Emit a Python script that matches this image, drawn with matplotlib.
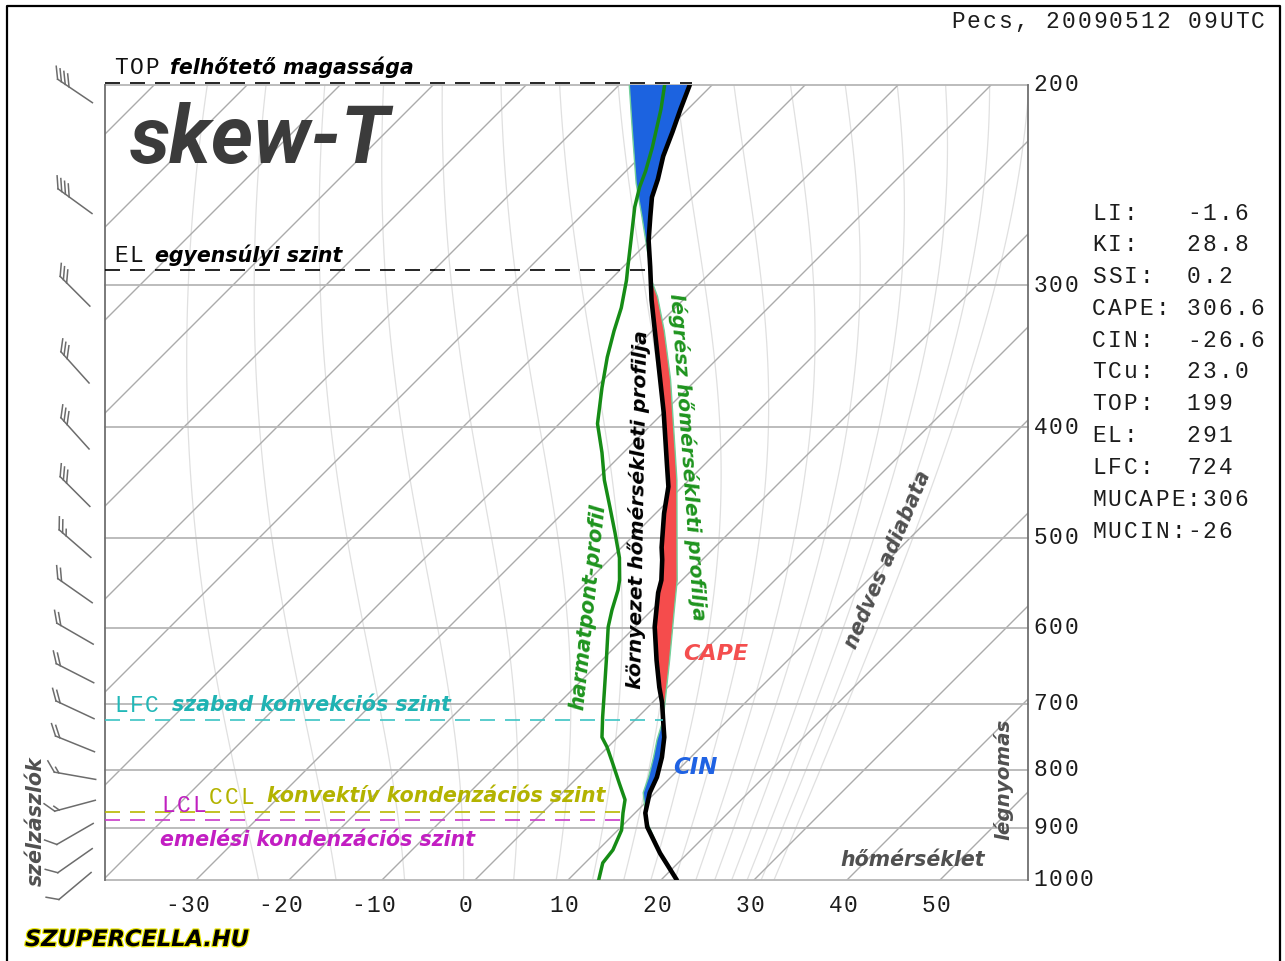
import numpy as np
import matplotlib
matplotlib.use("Agg")
import matplotlib.pyplot as plt
import matplotlib.patheffects as pe

plt.rcParams['font.family'] = ['DejaVu Sans']

W, H = 1285, 961
# plot box in pixels and the skew-T scale
PX_L, PX_R, PX_T, PX_B = 105, 1028, 85, 880
ZERO_PX = 475.0      # x pixel of 0 C on the 1000 hPa line
DEG_PX = 9.3         # pixels per degree
LNP_PX = 494.0       # pixels per unit of ln(p)
SKEW = LNP_PX / DEG_PX

# sounding (hPa, C)
env_p = [1000, 947, 898, 873, 838, 812, 780, 749, 723, 699, 677, 641, 599,
         559, 545, 523, 510, 476, 451, 430, 388, 351, 317, 309, 289, 274,
         261, 251, 242, 231, 220, 210, 200]
env_t = [21.7, 17.0, 12.8, 11.1, 9.4, 8.5, 6.9, 5.0, 3.0, 1.1, -0.9, -4.1, -7.9,
         -11.2, -12.2, -14.3, -15.7, -19.1, -21.5, -24.2, -30.0, -35.9, -41.9, -43.4,
         -47.1, -50.1, -52.5, -54.4, -55.7, -57.6, -59.2, -60.8, -62.4]

dew_p = [1000, 966, 941, 904, 873, 850, 822, 789, 764, 749, 719, 685, 641, 599,
         579, 556, 545, 521, 495, 470, 445, 421, 397, 369, 347, 329, 314, 297,
         289, 274, 256, 246, 238, 227, 210, 200]
dew_t = [13.3, 11.9, 11.6, 10.4, 8.7, 7.5, 5.1, 2.2, -0.1, -1.7, -3.8, -6.2, -9.5,
         -12.9, -14.3, -15.8, -16.7, -19.1, -22.3, -25.6, -29.1, -32.3, -35.9, -39.3,
         -42.0, -44.1, -45.8, -48.2, -49.5, -52.0, -55.2, -56.8, -57.9, -59.7, -62.9, -65.1]

par_p = [1000, 945, 880, 870, 838, 812, 780, 753, 723, 699, 641, 579, 545, 523,
         445, 416, 363, 329, 307, 297, 289, 279, 261, 244, 220, 200]
par_t = [21.7, 16.9, 11.5, 10.9, 8.7, 7.6, 6.0, 4.5, 3.0, 1.4, -2.7, -7.6, -10.5, -12.7,
         -21.3, -25.1, -32.8, -38.7, -43.1, -45.5, -47.1, -49.3, -53.4, -57.6, -63.5, -68.9]

lvl_top, lvl_el, lvl_lfc, lvl_ccl, lvl_lcl = 199, 291, 724, 871, 886

wind_p = [200, 250, 300, 350, 400, 450, 500, 550, 600, 650, 700, 750, 800, 850, 900, 950, 1000]
wind_dir = [304, 306, 315, 318, 318, 315, 311, 305, 300, 297, 295, 292, 280, 255, 240, 235, 230]
wind_spd = [40, 40, 30, 30, 30, 30, 25, 20, 20, 20, 20, 20, 15, 15, 10, 10, 10]

stats = [("LI:", "-1.6"), ("KI:", "28.8"), ("SSI:", "0.2"), ("CAPE:", "306.6"),
         ("CIN:", "-26.6"), ("TCu:", "23.0"), ("TOP:", "199"), ("EL:", "291"),
         ("LFC:", "724"), ("MUCAPE:", "306"), ("MUCIN:", "-26")]

isobars = [200, 300, 400, 500, 600, 700, 800, 900, 1000]
t_ticks = [-30, -20, -10, 0, 10, 20, 30, 40, 50]
isotherms = list(range(-130, 70, 10))
adiabat_te = [251.5 + 10 * k for k in range(16)]   # equivalent potential temperature, K


def skew(t, p):
    t = np.asarray(t, float)
    p = np.asarray(p, float)
    return t + SKEW * np.log(1000.0 / p)


def interp(pn, p, t):
    p = np.asarray(p, float)
    t = np.asarray(t, float)
    o = np.argsort(p)
    return np.interp(np.log(pn), np.log(p[o]), t[o])


def theta_e_sat(tk, p):
    tc = tk - 273.15
    es = 6.112 * np.exp(17.67 * tc / (tc + 243.5))
    r = 622.0 * es / (p - es)
    return (tk * (1000.0 / p) ** (0.2854 * (1 - 0.00028 * r))
            * np.exp((3.376 / tk - 0.00254) * r * (1 + 0.00081 * r)))


def moist_t(te, p):
    lo = np.full_like(p, 150.0)
    hi = np.full_like(p, 318.0)
    for _ in range(45):
        mid = 0.5 * (lo + hi)
        up = theta_e_sat(mid, p) > te
        hi = np.where(up, mid, hi)
        lo = np.where(up, lo, mid)
    return 0.5 * (lo + hi) - 273.15


def ypx(p):
    return PX_B - LNP_PX * np.log(1000.0 / p)


fig = plt.figure(figsize=(W / 100, H / 100), dpi=100)
fig.patch.set_facecolor('white')

ax = fig.add_axes([PX_L / W, 1 - PX_B / H, (PX_R - PX_L) / W, (PX_B - PX_T) / H])
ax.set_yscale('log')
ax.set_ylim(1000, 200)
xmin = (PX_L - ZERO_PX) / DEG_PX
xmax = (PX_R - ZERO_PX) / DEG_PX
ax.set_xlim(xmin, xmax)
ax.axis('off')

# moist adiabats
pa = np.geomspace(1000, 200, 90)
for te in adiabat_te:
    ax.plot(skew(moist_t(te, pa), pa), pa, color='#e0e0e0', lw=0.9, zorder=1)

# isotherms
for t in isotherms:
    ax.plot(skew([t, t], [1000, 200]), [1000, 200], color='#ababab', lw=1.0, zorder=2)

# isobars and side edges
for p in isobars:
    ax.plot([xmin, xmax], [p, p], color='#b6b6b6', lw=1.3, zorder=3, clip_on=False)
for xe in (xmin, xmax):
    ax.plot([xe, xe], [1000, 200], color='#707070', lw=1.3, zorder=4, clip_on=False)

# CAPE / CIN areas
pg = np.geomspace(1000, 200, 700)
xe_g = skew(interp(pg, env_p, env_t), pg)
xp_g = skew(interp(pg, par_p, par_t), pg)
ax.fill_betweenx(pg, xe_g, xp_g, where=xp_g > xe_g, color='#f54c4c', lw=0,
                 interpolate=True, zorder=5)
ax.fill_betweenx(pg, xe_g, xp_g, where=(xp_g < xe_g) & (pg <= 880), color='#1c63e0',
                 lw=0, interpolate=True, zorder=5)

# profiles
ax.plot(skew(par_t, par_p), par_p, color='#72d09a', lw=1.0, zorder=6)
ax.plot(skew(env_t, env_p), env_p, color='black', lw=3.3, zorder=7,
        solid_joinstyle='round', solid_capstyle='round')
ax.plot(skew(dew_t, dew_p), dew_p, color='#168c16', lw=2.5, zorder=7,
        solid_joinstyle='round')


def level(p, t_end, color):
    ax.plot([xmin, skew(t_end, p)], [p, p], color=color, lw=1.2, dashes=(9, 6),
            clip_on=False, zorder=8)


level(lvl_top, interp(lvl_top, env_p, env_t), 'black')
level(lvl_el, interp(lvl_el, env_p, env_t), 'black')
level(lvl_lfc, interp(lvl_lfc, env_p, env_t), '#3cc4c4')
level(lvl_ccl, interp(lvl_ccl, dew_p, dew_t) + 0.6, '#b8b800')
level(lvl_lcl, interp(lvl_lcl, dew_p, dew_t) + 0.6, '#c83ac8')

# overlay in pixel coordinates for texts and wind barbs
ov = fig.add_axes([0, 0, 1, 1], zorder=10)
ov.set_xlim(0, W)
ov.set_ylim(H, 0)
ov.axis('off')

ov.plot([7, 7, 1280, 1280], [961, 6, 6, 961], color='black', lw=1.6)

MONO = 'Liberation Mono'


def mono(x, y, s, color='#1c1c1c', size=16.5, pitch=15.8, ha='left'):
    if ha == 'center':
        x = x - len(s) * pitch / 2
    elif ha == 'right':
        x = x - len(s) * pitch
    for i, ch in enumerate(s):
        if ch != ' ':
            ov.text(x + (i + 0.5) * pitch, y, ch, ha='center', va='center',
                    family=MONO, fontsize=size, color=color)


def label(x, y, s, color, size=14.8, rot=0, ha='left', **kw):
    ov.text(x, y, s, color=color, fontsize=size, fontweight='bold', fontstyle='italic',
            ha=ha, va='center', rotation=rot, rotation_mode='anchor', **kw)


mono(1266, 22, "Pecs, 20090512 09UTC", ha='right')

for i, (k, v) in enumerate(stats):
    y = 213 + i * 31.8
    mono(1091, y, k)
    mono(1091 + max(6, len(k)) * 15.8, y, v)

for p in isobars:
    mono(1033, ypx(p), str(p), pitch=15.2)

for t in t_ticks:
    cx = ZERO_PX + DEG_PX * t - (9 if t <= 0 else 4)
    mono(cx, 905, str(t), ha='center', pitch=15.2)

# level names
mono(113, 68, "TOP", color='#111111', pitch=15.6)
label(170, 67, "felhőtető magassága", 'black')
mono(113, 256, "EL", color='#111111', pitch=15.6)
label(155, 255, "egyensúlyi szint", 'black')
mono(113, 706, "LFC", color='#22b8b8', pitch=15.6)
label(172, 705, "szabad konvekciós szint", '#1fb3b3')
mono(160, 806, "LCL", color='#c020c0', pitch=15.6)
mono(208, 797, "CCL", color='#b3b300', pitch=15.6)
label(267, 796, "konvektív kondenzációs szint", '#b3b300')
label(160, 840, "emelési kondenzációs szint", '#c21ec2')

ov.text(130, 141, "skew-T", family=['Roboto', 'DejaVu Sans'], fontsize=58,
        fontweight='bold', fontstyle='italic', color='#3b3b3b', ha='left', va='center')

label(683, 654, "CAPE", '#f44e4e', size=16)
label(673, 767, "CIN", '#1f62e3', size=16.5)
label(840, 860, "hőmérséklet", '#505050')
label(1003, 779, "légnyomás", '#505050', size=14.3, rot=90, ha='center')
label(36, 821, "szélzászlók", '#505050', rot=90, ha='center')
label(888, 560, "nedves adiabata", '#505050', rot=67, ha='center')
label(638, 510, "környezet hőmérsékleti profilja", 'black', size=14.6, rot=89, ha='center')
label(687, 457, "légrész hőmérsékleti profilja", '#1e941e', size=14.6, rot=-86, ha='center')
label(588, 607, "harmatpont-profil", '#1e941e', size=14.8, rot=84, ha='center')

ov.text(25, 940, "SZUPERCELLA.HU", fontsize=16.2, fontweight='heavy', fontstyle='italic',
        color='black', ha='left', va='center',
        path_effects=[pe.withStroke(linewidth=1.8, foreground='#ece800')])


# wind barbs, drawn by hand in pixel space
def barb(cx, cy, d, spd, L=42, gap=4.6, flen=13):
    r = np.radians(d)
    sx, sy = np.sin(r), -np.cos(r)
    tip = (cx + sx * L / 2, cy + sy * L / 2)
    base = (cx - sx * L / 2, cy - sy * L / 2)
    ov.plot([base[0], tip[0]], [base[1], tip[1]], color='#6c6c6c', lw=1.1)
    a = np.radians(50)
    ux, uy = sx, -sy
    fx = ux * np.cos(a) + uy * np.sin(a)
    fy = -(-ux * np.sin(a) + uy * np.cos(a))
    n = int(spd // 10)
    for i in range(n):
        px, py = tip[0] - sx * gap * i, tip[1] - sy * gap * i
        ov.plot([px, px + fx * flen], [py, py + fy * flen], color='#6c6c6c', lw=1.1)
    if spd % 10 >= 5:
        px, py = tip[0] - sx * gap * n, tip[1] - sy * gap * n
        ov.plot([px, px + fx * flen / 2], [py, py + fy * flen / 2], color='#6c6c6c', lw=1.1)


for p, d, s in zip(wind_p, wind_dir, wind_spd):
    barb(75, ypx(p) + 6, d, s)

fig.savefig("out.png", dpi=100, facecolor='white')
